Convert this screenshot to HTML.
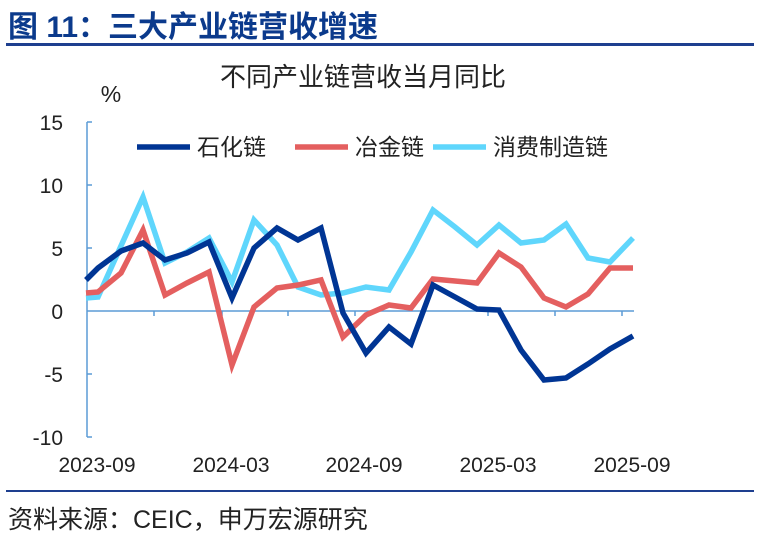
<!DOCTYPE html>
<html><head><meta charset="utf-8"><style>
body{margin:0;background:#fff;width:762px;height:544px;overflow:hidden}
text{font-family:"Liberation Sans","Noto Sans CJK SC",sans-serif}
</style></head><body>
<svg width="762" height="544" viewBox="0 0 762 544" xmlns="http://www.w3.org/2000/svg">
<text x="8" y="37" font-size="30" font-weight="bold" fill="#0b3a8c">图 11：三大产业链营收增速</text>
<rect x="6" y="43" width="748" height="3" fill="#1e3f8f"/>
<text x="363" y="86" font-size="26" text-anchor="middle" fill="#222">不同产业链营收当月同比</text>
<text x="111" y="102" font-size="23" text-anchor="middle" fill="#222">%</text>
<g font-size="21" fill="#222" text-anchor="end">
<text x="63" y="130">15</text><text x="63" y="193">10</text><text x="63" y="256">5</text>
<text x="63" y="319">0</text><text x="63" y="382">-5</text><text x="63" y="445">-10</text>
</g>
<g stroke="#5b9bd5" stroke-width="1.5">
<line x1="87" y1="122" x2="87" y2="437"/>
<line x1="87" y1="311" x2="634" y2="311"/>
<line x1="87" y1="122" x2="92" y2="122"/><line x1="87" y1="185" x2="92" y2="185"/>
<line x1="87" y1="248" x2="92" y2="248"/><line x1="87" y1="374" x2="92" y2="374"/>
<line x1="87" y1="437" x2="92" y2="437"/>
<line x1="154" y1="311" x2="154" y2="316"/><line x1="222" y1="311" x2="222" y2="316"/>
<line x1="288" y1="311" x2="288" y2="316"/><line x1="355" y1="311" x2="355" y2="316"/>
<line x1="422" y1="311" x2="422" y2="316"/><line x1="488" y1="311" x2="488" y2="316"/>
<line x1="555" y1="311" x2="555" y2="316"/><line x1="622" y1="311" x2="622" y2="316"/>
</g>
<g font-size="21" fill="#222" text-anchor="middle">
<text x="97" y="472">2023-09</text><text x="231" y="472">2024-03</text><text x="364" y="472">2024-09</text>
<text x="498" y="472">2025-03</text><text x="632" y="472">2025-09</text>
</g>
<g fill="none" stroke-width="5.5" stroke-linejoin="miter">
<polyline stroke="#5fd6fc" points="86,298 98,297 143,197 165,263 187,252 209,238 232,282 254,220 277,245 298,287 321,295 343,293 366,287 389,290 411,252 433,210 455,227 477,245 499,225 521,243 544,240 566,224 588,258 610,262 633,238"/>
<polyline stroke="#e45f5f" points="86,293 98,292 121,273 143,230 165,295 187,283 209,272 232,365 254,307 277,288 298,285 321,280 343,337 366,315 389,305 411,308 433,279 455,281 477,283 499,253 521,267 544,298 566,307 588,294 610,268 633,268"/>
<polyline stroke="#003594" points="86,280 98,268 121,251 143,243 165,260 187,253 209,242 232,298 254,248 277,228 298,240 321,228 343,313 366,353 389,327 411,344 433,285 455,297 477,309 499,310 521,350 544,380 566,378 588,364 610,349 633,336"/>
</g>
<g font-size="23" fill="#222">
<line x1="137" y1="147" x2="190" y2="147" stroke="#003594" stroke-width="5.5"/><text x="197" y="155">石化链</text>
<line x1="295" y1="147" x2="348" y2="147" stroke="#e45f5f" stroke-width="5.5"/><text x="355" y="155">冶金链</text>
<line x1="433" y1="147" x2="486" y2="147" stroke="#5fd6fc" stroke-width="5.5"/><text x="493" y="155">消费制造链</text>
</g>
<rect x="6" y="490" width="748" height="2" fill="#1e3f8f"/>
<text x="8" y="528" font-size="25" fill="#222">资料来源：CEIC，申万宏源研究</text>
</svg>
</body></html>
